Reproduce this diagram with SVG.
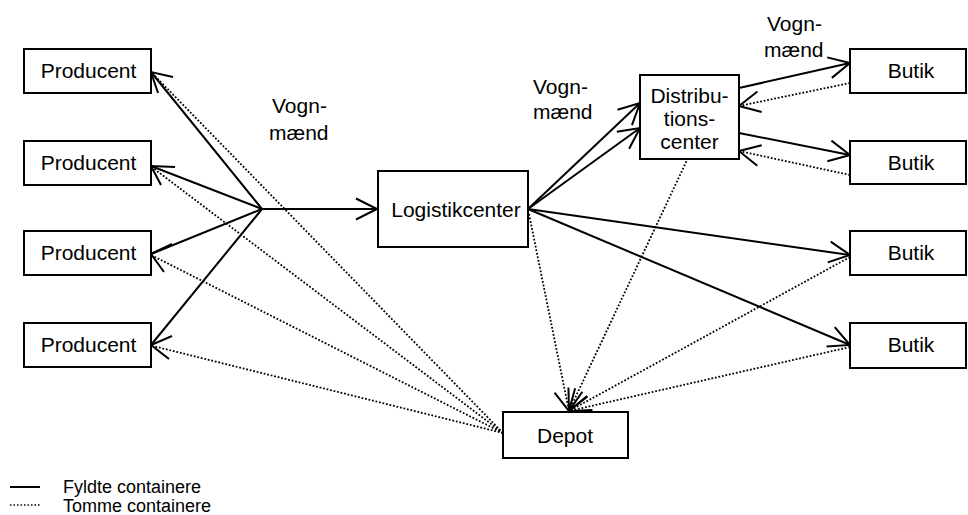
<svg xmlns="http://www.w3.org/2000/svg" width="968" height="515" viewBox="0 0 968 515">
<style>
text{font-family:"Liberation Sans",Arial,sans-serif;font-size:21px;fill:#000}
.box{fill:#fff;stroke:#000;stroke-width:2}
.c{text-anchor:middle}
.s{fill:none;stroke:#000;stroke-width:2}
.d{fill:none;stroke:#000;stroke-width:1.8;stroke-dasharray:1.8 1.8}
.h{fill:none;stroke:#000;stroke-width:2;stroke-linejoin:miter}
.lg{font-size:18px}
</style>
<defs>
<marker id="a" markerUnits="userSpaceOnUse" viewBox="-26 -14 30 28" refX="0" refY="0" markerWidth="30" markerHeight="28" orient="auto" overflow="visible">
<path d="M-21 -10.5 L0 0 L-21 10.5" fill="none" stroke="#000" stroke-width="2"/>
</marker>
</defs>
<g id="connectors">
<path class="s" d="M262 209 L151 72"/>
<path class="s" d="M262 209 L151 166"/>
<path class="s" d="M262 209 L151 254"/>
<path class="s" d="M262 209 L151 345"/>
<path class="s" d="M262 209 L377 209" marker-end="url(#a)"/>
<path class="s" d="M528 209 L640 103" marker-end="url(#a)"/>
<path class="s" d="M528 209 L640 128" marker-end="url(#a)"/>
<path class="s" d="M739 88 L850 63" marker-end="url(#a)"/>
<path class="s" d="M739 133 L850 155" marker-end="url(#a)"/>
<path class="s" d="M528 209 L850 255" marker-end="url(#a)"/>
<path class="s" d="M528 209 L850 345" marker-end="url(#a)"/>
<path class="d" d="M503 433 L153 74"/>
<path class="d" d="M503 433 L153 168"/>
<path class="d" d="M503 433 L153 256"/>
<path class="d" d="M503 433 L153 346"/>
<path class="h" d="M173 77 L151 72 L158 93"/>
<path class="h" d="M175 167 L151 166 L161 185"/>
<path class="h" d="M172 244 L151 254 L164 272"/>
<path class="h" d="M172 336 L151 345 L169 359"/>
<path class="d" d="M850 83 L739 106" marker-end="url(#a)"/>
<path class="d" d="M850 175 L739 151" marker-end="url(#a)"/>
<path class="d" d="M529 214 L569 411" marker-end="url(#a)"/>
<path class="d" d="M688 158 L569 411" marker-end="url(#a)"/>
<path class="d" d="M850 257 L569 411" marker-end="url(#a)"/>
<path class="d" d="M850 347 L569 411" marker-end="url(#a)"/>
</g>
<g id="producent1"><rect class="box" x="24" y="49" width="127" height="44"/><text class="c" x="88.5" y="78">Producent</text></g>
<g id="producent2"><rect class="box" x="24" y="141" width="127" height="44"/><text class="c" x="88.5" y="170">Producent</text></g>
<g id="producent3"><rect class="box" x="24" y="231" width="127" height="44"/><text class="c" x="88.5" y="260">Producent</text></g>
<g id="producent4"><rect class="box" x="24" y="323" width="127" height="44"/><text class="c" x="88.5" y="352">Producent</text></g>
<g id="logistikcenter"><rect class="box" x="378" y="171" width="150" height="76"/><text class="c" x="456" y="217">Logistikcenter</text></g>
<g id="distributionscenter"><rect class="box" x="640" y="75" width="99" height="84"/>
<text class="c" x="689.5" y="103">Distribu-</text><text class="c" x="689.5" y="126">tions-</text><text class="c" x="689.5" y="149">center</text></g>
<g id="butik1"><rect class="box" x="850" y="49" width="116" height="44"/><text class="c" x="911" y="78">Butik</text></g>
<g id="butik2"><rect class="box" x="850" y="141" width="116" height="43"/><text class="c" x="911" y="170">Butik</text></g>
<g id="butik3"><rect class="box" x="850" y="231" width="116" height="44"/><text class="c" x="911" y="260">Butik</text></g>
<g id="butik4"><rect class="box" x="850" y="323" width="116" height="45"/><text class="c" x="911" y="352">Butik</text></g>
<g id="depot"><rect class="box" x="503" y="412" width="125" height="46"/><text class="c" x="565" y="443">Depot</text></g>
<g id="labels">
<text x="272" y="113">Vogn-</text><text x="269" y="140">mænd</text>
<text x="533" y="94">Vogn-</text><text x="533" y="119">mænd</text>
<text x="767" y="31">Vogn-</text><text x="764" y="57">mænd</text>
</g>
<g id="legend">
<line x1="10" y1="487" x2="40" y2="487" stroke="#000" stroke-width="2"/>
<line x1="10" y1="505" x2="40" y2="505" stroke="#000" stroke-width="1.5" stroke-dasharray="1.5 2"/>
<text class="lg" x="63" y="493">Fyldte containere</text>
<text class="lg" x="63" y="512">Tomme containere</text>
</g>
</svg>
